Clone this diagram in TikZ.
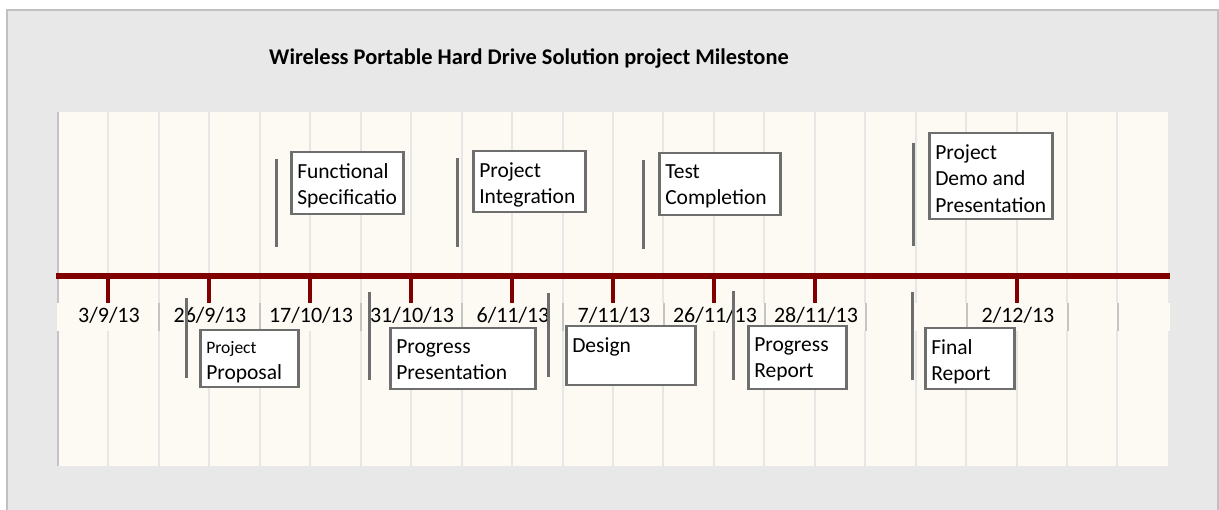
\documentclass[tikz,border=0pt]{standalone}
\usepackage{fontspec}
\setmainfont{Carlito}
\usetikzlibrary{positioning}

\definecolor{framegray}{HTML}{C0C0C0}
\definecolor{panelgray}{HTML}{E8E8E8}
\definecolor{plotcream}{HTML}{FDFAF3}
\definecolor{gridgray}{HTML}{E6E6E6}
\definecolor{sepgray}{HTML}{C4C4C4}
\definecolor{axisred}{HTML}{800000}
\definecolor{boxgray}{HTML}{6E6E6E}

% text of a milestone box: width, height, lines
\newcommand{\mstext}[3]{\parbox[t][#2pt][t]{#1pt}{\raggedright\hyphenpenalty=10000\leftskip=6pt\relax
  \vspace*{11pt}\fontsize{21.5}{26.5}\selectfont #3}}

\begin{document}
\begin{tikzpicture}[x=1pt,y=-1pt,
		milebox/.style={draw=boxgray, line width=2.5pt, fill=white, inner sep=0pt, anchor=north west},
		mileline/.style={draw=boxgray, line width=3pt},
		tickmark/.style={draw=axisred, line width=4pt},
		datelabel/.style={inner sep=0pt, anchor=base, font=\fontsize{22}{26}\selectfont}]

	\useasboundingbox (0,0) rectangle (1219,510);
	\clip (0,0) rectangle (1219,510);

	% frame and plot area
	\draw[framegray, line width=1.5pt, fill=panelgray] (7,10) rectangle (1218,530);
	\fill[plotcream] (57,112) rectangle (1168,466);
	\foreach \i in {1,...,21}
		\draw[gridgray, line width=2pt] (58+\i*50.45,112) -- (58+\i*50.45,466);
	\draw[sepgray, line width=2pt] (58,112) -- (58,466);

	% label band with separators
	\fill[plotcream] (57,303) rectangle (1170,331);
	\foreach \x in {159,260,361,462,563,664,765,866,967,1068,1118}
		\draw[sepgray, line width=2.5pt] (\x,303) -- (\x,331);

	\node[inner sep=0pt, anchor=base, font=\bfseries\fontsize{22.4}{26}\selectfont] (title) at (529,65)
		{Wireless Portable Hard Drive Solution project Milestone};

	% time axis
	\coordinate (axisstart) at (56,276);
	\coordinate (axisend) at (1170,276);
	\draw[axisred, line width=6pt] (axisstart) -- (axisend);

	\foreach \x/\d [count=\k] in {108/3\slash 9\slash 13, 209/26\slash 9\slash 13, 310/17\slash 10\slash 13,
			411/31\slash 10\slash 13, 512/6\slash 11\slash 13, 613/7\slash 11\slash 13,
			714/26\slash 11\slash 13, 815/28\slash 11\slash 13, 1017/2\slash 12\slash 13}{
		\coordinate (tick\k) at (\x,276);
		\coordinate (tickend\k) at (\x,303);
		\draw[tickmark] (tick\k) -- (tickend\k);
		\node[datelabel] (date\k) at (\x+1,323) {\d};
	}

	% milestones above the axis
	\node[milebox] (funcspec) at (290,151) {\mstext{112}{62}{Functional\\Specificatio}};
	\coordinate (fs1) at (276,159); \coordinate (fs2) at (276,247);
	\draw[mileline] (fs1) -- (fs2);

	\node[milebox] (integration) at (472,150) {\mstext{112}{61}{Project\\Integration}};
	\coordinate (pi1) at (457,158); \coordinate (pi2) at (457,247);
	\draw[mileline] (pi1) -- (pi2);

	\node[milebox] (testdone) at (658,152) {\mstext{121}{62}{Test\\Completion}};
	\coordinate (tc1) at (643,160); \coordinate (tc2) at (643,249);
	\draw[mileline] (tc1) -- (tc2);

	\node[milebox] (demo) at (928,132) {\mstext{123}{86}{Project\\Demo and\\Presentation}};
	\coordinate (pd1) at (913,143); \coordinate (pd2) at (913,246);
	\draw[mileline] (pd1) -- (pd2);

	% milestones below the axis
	\node[milebox] (proposal) at (199,329)
		{\mstext{98}{57}{\fontsize{17.5}{24}\selectfont Project\\\fontsize{21.5}{26}\selectfont Proposal}};
	\coordinate (pp1) at (186,298); \coordinate (pp2) at (186,378);
	\draw[mileline] (pp1) -- (pp2);

	\node[milebox] (progpres) at (389,327) {\mstext{145}{61}{Progress\\Presentation}};
	\coordinate (pr1) at (369,292); \coordinate (pr2) at (369,380);
	\draw[mileline] (pr1) -- (pr2);

	\node[milebox] (design) at (565,325) {\mstext{129}{59}{Design}};
	\coordinate (de1) at (548,293); \coordinate (de2) at (548,377);
	\draw[mileline] (de1) -- (de2);

	\node[milebox] (progrep) at (747,325) {\mstext{98}{63}{Progress\\Report}};
	\coordinate (rp1) at (733,291); \coordinate (rp2) at (733,380);
	\draw[mileline] (rp1) -- (rp2);

	\node[milebox] (final) at (924,327) {\mstext{89}{61}{Final\\Report}};
	\coordinate (fr1) at (912,292); \coordinate (fr2) at (912,380);
	\draw[mileline] (fr1) -- (fr2);
\end{tikzpicture}
\end{document}
